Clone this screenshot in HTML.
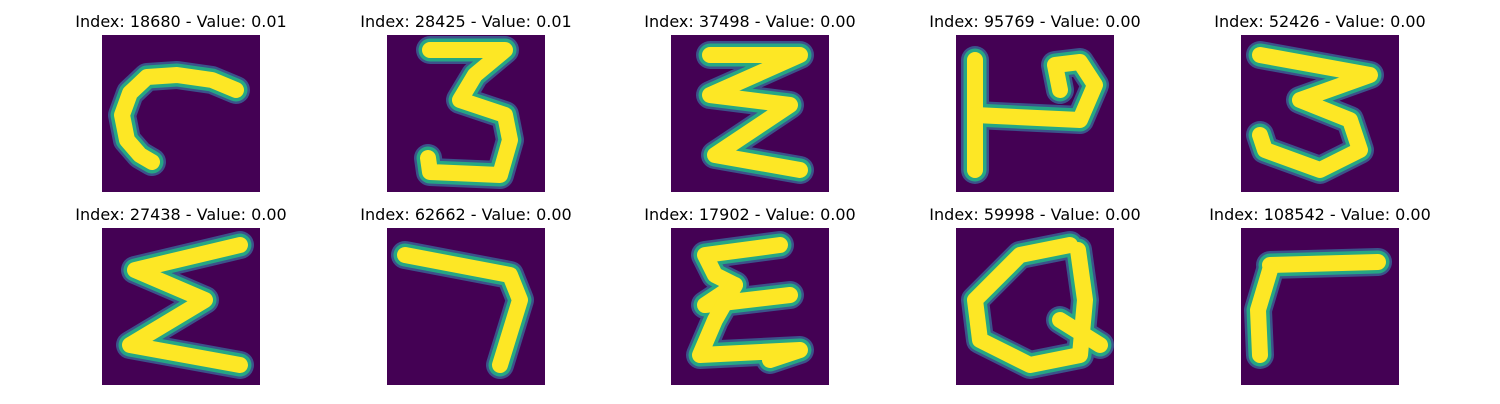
<!DOCTYPE html>
<html><head><meta charset="utf-8"><style>
body{margin:0;background:#fff;width:1500px;height:400px;overflow:hidden;font-family:"DejaVu Sans","Liberation Sans",sans-serif}
</style></head><body>
<svg id="fig" width="1500" height="400" xmlns="http://www.w3.org/2000/svg"></svg>
<script>
const indices=[18680,28425,37498,95769,52426,27438,62662,17902,59998,108542];
const values=["0.01","0.01","0.00","0.00","0.00","0.00","0.00","0.00","0.00","0.00"];
const strokes=[
 [[[134,55],[110,45],[75,40],[45,42],[28,58],[20,80],[25,105],[38,120],[50,127]]],
 [[[43,15],[118,15],[88,40],[73,65],[118,80],[123,105],[113,140],[43,137],[41,123]]],
 [[[39,20],[129,20],[39,60],[119,70],[44,120],[129,135]]],
 [[[19,25],[19,135]],[[19,80],[124,85],[139,50],[124,27],[99,30],[104,55]]],
 [[[19,20],[129,40],[59,65],[109,85],[119,115],[79,135],[24,115],[19,100]]],
 [[[138,17],[33,42],[103,72],[28,117],[138,137]]],
 [[[18,27],[123,47],[133,72],[113,137]]],
 [[[109,17],[34,27],[44,47],[64,57],[34,77],[119,67]],[[64,57],[44,92],[29,127],[129,122],[99,132]]],
 [[[114,17],[64,27],[19,72],[24,112],[74,137],[124,127],[129,72],[122,22]],[[104,92],[144,117]]],
 [[[29,37],[137,34]],[[29,42],[17,82],[19,127]]]
];
const NS="http://www.w3.org/2000/svg";
const svg=document.getElementById('fig');
const xs=[102,387,671,956,1241], ys=[35,228], W=158,H=157;
for(let i=0;i<10;i++){
  const x0=xs[i%5], y0=ys[Math.floor(i/5)];
  const g=document.createElementNS(NS,'g');
  
  
  const t=document.createElementNS(NS,'text');
  
  
  t.setAttribute('x',x0+W/2);t.setAttribute('y',y0-8);
  t.setAttribute('text-anchor','middle');t.setAttribute('font-size','16');
  t.textContent='Index: '+indices[i]+' - Value: '+values[i];
  g.appendChild(t);
  const r=document.createElementNS(NS,'rect');
  
  
  r.setAttribute('x',x0);r.setAttribute('y',y0);r.setAttribute('width',W);r.setAttribute('height',H);
  r.setAttribute('fill','#440154');
  g.appendChild(r);
  const layers=[['#3b528b',28],['#26a784',23],['#fde725',16]];
  for(const [c,w] of layers){
    for(const s of strokes[i]){
      const p=document.createElementNS(NS,'polyline');
      
      
      p.setAttribute('points',s.map(q=>(x0+q[0])+','+(y0+q[1])).join(' '));
      p.setAttribute('fill','none');p.setAttribute('stroke',c);p.setAttribute('stroke-width',w);
      p.setAttribute('stroke-linecap','round');p.setAttribute('stroke-linejoin','round');
      g.appendChild(p);
    }
  }
  svg.appendChild(g);
}
</script>
</body></html>
